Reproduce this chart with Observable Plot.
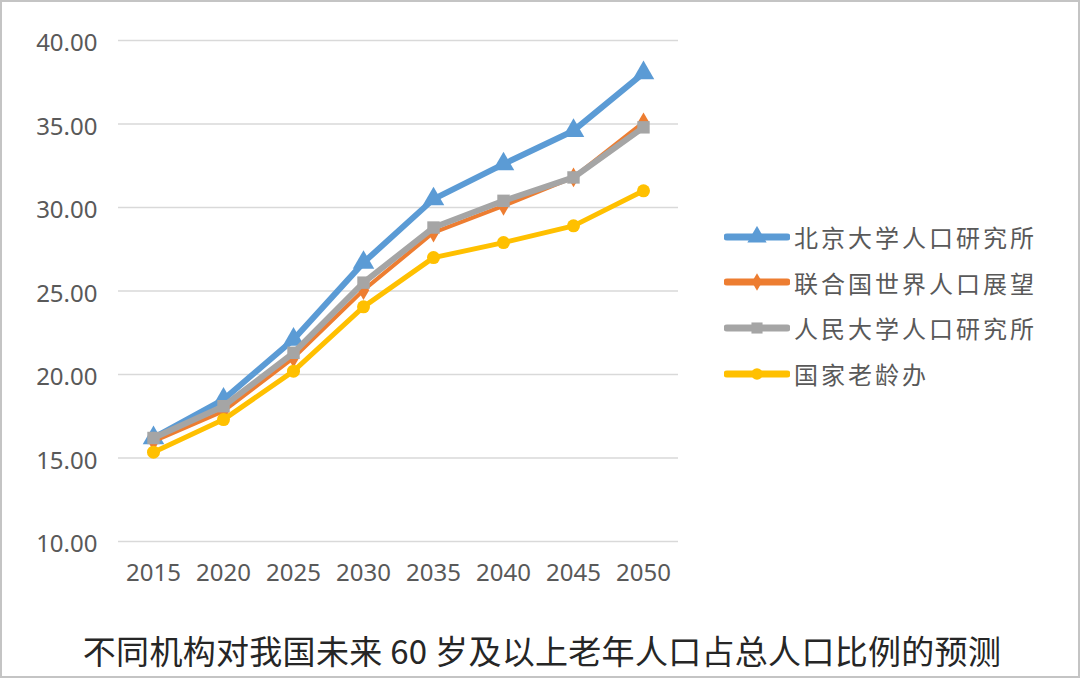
<!DOCTYPE html>
<html><head><meta charset="utf-8">
<script src="https://cdn.jsdelivr.net/npm/d3@7"></script>
<script src="https://cdn.jsdelivr.net/npm/@observablehq/plot@0.6"></script>
<style>
body{margin:0;background:#fff;}
#wrap{position:relative;width:1080px;height:678px;overflow:hidden;font-family:"Noto Sans","Noto Sans CJK SC",sans-serif;}
#frame{position:absolute;left:0;top:0;width:1080px;height:678px;box-sizing:border-box;border:2px solid #c4c4c4;pointer-events:none;}
#legend{position:absolute;left:724px;top:214px;}
.row{display:flex;align-items:center;height:45.6px;}
.row span{font-family:"Noto Sans CJK SC",sans-serif;font-size:24px;letter-spacing:3px;color:#595959;margin-left:4px;}
#title{position:absolute;left:0;width:1084px;top:628px;text-align:center;font-family:"Noto Sans CJK SC",sans-serif;font-size:33px;letter-spacing:0.3px;color:#262626;line-height:44px;}
</style></head>
<body><div id="wrap"><div id="chart"></div><div id="legend"></div><div id="title"></div><div id="frame"></div></div>
<script>
const years = ["2015","2020","2025","2030","2035","2040","2045","2050"];
const seriesNames = ["北京大学人口研究所","联合国世界人口展望","人民大学人口研究所","国家老龄办"];
const pku = [16.2, 18.5, 22.1, 26.7, 30.5, 32.6, 34.6, 38.05];
const un  = [16.0, 17.8, 21.0, 25.05, 28.5, 30.1, 31.8, 35.1];
const ruc = [16.2, 18.1, 21.3, 25.5, 28.8, 30.4, 31.8, 34.8];
const cncaprc = [15.35, 17.3, 20.2, 24.05, 27.0, 27.9, 28.9, 31.0];
const yTicks = [10, 15, 20, 25, 30, 35, 40];
const titleText = "不同机构对我国未来 60 岁及以上老年人口占总人口比例的预测";

const colors = ["#5B9BD5", "#ED7D31", "#A5A5A5", "#FFC000"];
const symbols = ["triangle", "diamond", "square", "circle"];
const widths = [6, 4, 6, 5];
const radii = [8, 6, 7, 6.5];
const values = [pku, un, ruc, cncaprc];

const marks = [Plot.gridY(yTicks, {stroke: "#d9d9d9", strokeOpacity: 1, strokeWidth: 1.5})];
values.forEach((vals, i) => {
  const data = years.map((y, j) => ({year: y, value: vals[j]}));
  marks.push(Plot.line(data, {x: "year", y: "value", stroke: colors[i], strokeWidth: widths[i], strokeLinejoin: "round"}));
  marks.push(Plot.dot(data, {x: "year", y: "value", fill: colors[i], stroke: "none", symbol: symbols[i], r: radii[i]}));
});
marks.push(Plot.axisY(yTicks, {tickSize: 0, tickPadding: 21, fontSize: 24, fill: "#595959", tickFormat: d => d.toFixed(2), dy: 3}));
marks.push(Plot.axisX({tickSize: 0, tickPadding: 22, fontSize: 24, fill: "#595959"}));

const chart = Plot.plot({
  width: 1080, height: 600,
  marginLeft: 118, marginRight: 402, marginTop: 40, marginBottom: 59,
  style: {fontFamily: '"Noto Sans", sans-serif', background: "transparent"},
  x: {type: "point", domain: years, padding: 0.5, label: null},
  y: {domain: [10, 40], label: null},
  marks
});
document.getElementById("chart").appendChild(chart);

const leg = d3.select("#legend");
seriesNames.forEach((name, i) => {
  const row = leg.append("div").attr("class", "row");
  const svg = row.append("svg").attr("width", 66).attr("height", 22);
  svg.append("line").attr("x1", 3).attr("x2", 63).attr("y1", 11).attr("y2", 11)
    .attr("stroke", colors[i]).attr("stroke-width", 7).attr("stroke-linecap", "round");
  const sym = {triangle: d3.symbolTriangle, diamond: d3.symbolDiamond, square: d3.symbolSquare, circle: d3.symbolCircle}[symbols[i]];
  svg.append("path").attr("transform", "translate(33,11)")
    .attr("d", d3.symbol(sym, Math.PI * radii[i] * radii[i] * 0.8)()).attr("fill", colors[i]);
  row.append("span").text(name);
});
document.getElementById("title").textContent = titleText;
</script>
</body></html>
